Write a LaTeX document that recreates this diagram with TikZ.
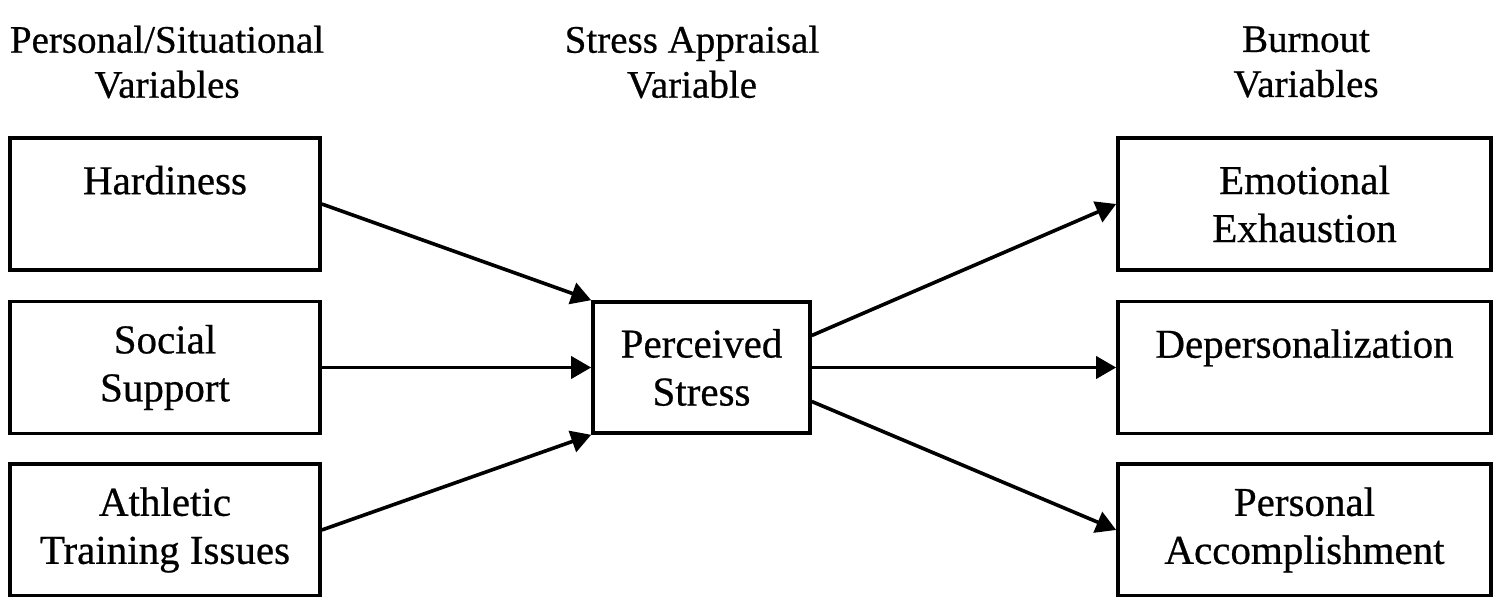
\documentclass[tikz,border=0pt]{standalone}
\usepackage{fontspec}
\setmainfont{Liberation Serif}[UprightFeatures={FakeBold=0.6}]
\usetikzlibrary{arrows.meta}
\begin{document}
\begin{tikzpicture}[x=0.5pt,y=-0.5pt,
  box/.style={draw,line width=1.8pt,rectangle,inner sep=0pt,align=center,
    font=\fontsize{20.5pt}{24pt}\selectfont},
  lbox/.style={box,minimum width=155pt,minimum height=66pt},
  mbox/.style={box,minimum width=108.5pt,minimum height=65.5pt},
  rbox/.style={box,minimum width=186.5pt,minimum height=66pt},
  head/.style={align=center,inner sep=0pt,font=\fontsize{19.5pt}{22.5pt}\selectfont},
  arr/.style={line width=1.8pt,-{Triangle[length=10pt,width=11pt]}}]
\useasboundingbox (0,0) rectangle (1494,597);
% headings
\node[head] (h1) at (167,62) {Personal/Situational\\Variables};
\node[head] (h2) at (692,62) {Stress Appraisal\\Variable};
\node[head] (h3) at (1306,62) {Burnout\\Variables};
% left boxes
\node[lbox] (hard) at (165,204) {Hardiness\\\mbox{}};
\node[lbox] (soc) at (165,367.5) {Social\\Support};
\node[lbox] (ath) at (165,530) {Athletic\\Training Issues};
% middle
\node[mbox] (ps) at (701.5,367.5) {Perceived\\Stress};
% right boxes
\node[rbox] (ee) at (1304.5,204) {Emotional\\Exhaustion};
\node[rbox] (dp) at (1304.5,367.5) {Depersonalization\\\mbox{}};
\node[rbox] (pa) at (1304.5,530) {Personal\\Accomplishment};
% arrows
\draw[arr] (hard.east) -- (ps.north west);
\draw[arr] (soc.east) -- (ps.west);
\draw[arr] (ath.east) -- (ps.south west);
\draw[arr] ([yshift=16pt]ps.east) -- (ee.west);
\draw[arr] (ps.east) -- (dp.west);
\draw[arr] ([yshift=-17pt]ps.east) -- (pa.west);
\end{tikzpicture}
\end{document}
